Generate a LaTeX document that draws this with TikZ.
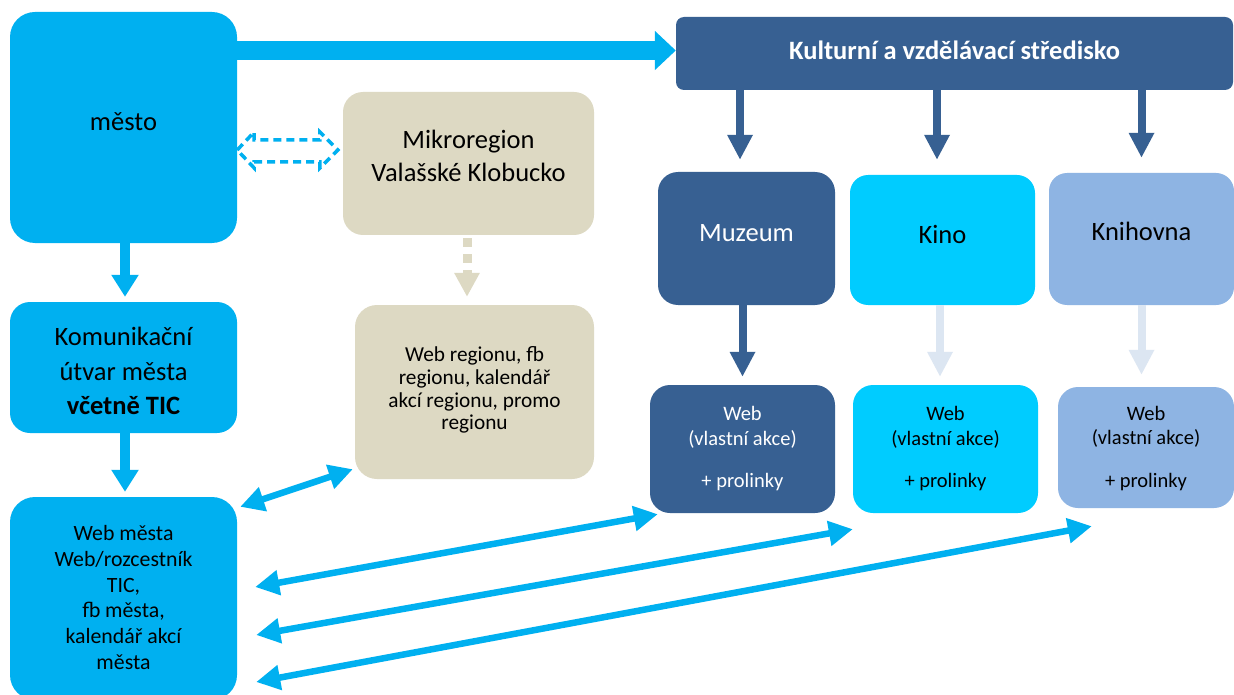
\documentclass[tikz,border=0pt]{standalone}
\usepackage{fontspec}
\setmainfont{Carlito}
\usetikzlibrary{arrows.meta,calc}
\definecolor{lb}{HTML}{00B0F0}
\definecolor{db}{HTML}{376092}
\definecolor{cy}{HTML}{00CCFF}
\definecolor{lav}{HTML}{8EB4E3}
\definecolor{beige}{HTML}{DDD9C3}
\definecolor{pale}{HTML}{DCE6F2}
\begin{document}
\begin{tikzpicture}[x=1pt,y=-1pt,
  box/.style={inner sep=0pt},
  txt/.style={inner sep=0pt, align=center},
  bigtext/.style={font=\fontsize{26.5}{33}\selectfont},
  smalltext/.style={font=\fontsize{20.5}{24.5}\selectfont},
  bigarrow/.style={line width=19pt, lb, -{Triangle[length=21pt,width=38pt]}},
  darr/.style={line width=8pt, db, -{Triangle[length=25pt,width=24pt]}},
  palearr/.style={line width=8pt, pale, -{Triangle[length=25pt,width=24pt]}},
  blarr/.style={line width=10pt, lb, -{Triangle[length=22pt,width=26pt]}},
  dotarr/.style={line width=9pt, beige, dash pattern=on 9pt off 7pt, -{Triangle[length=24pt,width=24pt]}},
  dblarr/.style={line width=6.5pt, lb, {Triangle[length=24pt,width=24pt]}-{Triangle[length=24pt,width=24pt]}},
  outlinearr/.style={line width=3.5pt, lb, dash pattern=on 8pt off 5pt, line join=miter},
]
\clip (0,0) rectangle (1234,695);
\fill[white] (0,0) rectangle (1234,695);

% boxes
\node[box, fill=lb, rounded corners=25pt, minimum width=227pt, minimum height=231pt] (mesto) at (123.5,127.5) {};
\node[box, fill=db, rounded corners=8pt, minimum width=557pt, minimum height=73pt] (kvs) at (954.5,53.5) {};
\node[box, fill=beige, rounded corners=20pt, minimum width=251pt, minimum height=143pt] (mikro) at (468.5,163.5) {};
\node[box, fill=db, rounded corners=20pt, minimum width=177pt, minimum height=133pt] (muzeum) at (746.5,238.5) {};
\node[box, fill=cy, rounded corners=18pt, minimum width=185pt, minimum height=130pt] (kino) at (942.5,240) {};
\node[box, fill=lav, rounded corners=18pt, minimum width=185pt, minimum height=132pt] (knih) at (1141.5,239) {};
\node[box, fill=lb, rounded corners=20pt, minimum width=227pt, minimum height=131pt] (kom) at (123.5,367.5) {};
\node[box, fill=beige, rounded corners=22pt, minimum width=239pt, minimum height=174pt] (webreg) at (474.5,392) {};
\node[box, fill=db, rounded corners=20pt, minimum width=185pt, minimum height=128pt] (webmuz) at (742.5,449) {};
\node[box, fill=cy, rounded corners=20pt, minimum width=185pt, minimum height=128pt] (webkino) at (945.5,449) {};
\node[box, fill=lav, rounded corners=20pt, minimum width=176pt, minimum height=121pt] (webknih) at (1146,447.5) {};
\node[box, fill=lb, rounded corners=25pt, minimum width=227pt, minimum height=203pt] (webmesta) at (123.5,598.5) {};

% texts
\node[txt, bigtext] (mesto-t) at ($(mesto)+(0,-6)$) {město};
\node[txt, font=\fontsize{26.5}{30}\selectfont\bfseries, text=white] (kvs-t) at ($(kvs)+(0,-3.5)$) {Kulturní a vzdělávací středisko};
\node[txt, bigtext] (mikro-t) at ($(mikro)+(0,-7.5)$) {Mikroregion\\Valašské Klobucko};
\node[txt, bigtext, text=white] (muzeum-t) at ($(muzeum)+(0,-5.5)$) {Muzeum};
\node[txt, bigtext] (kino-t) at ($(kino)+(0,-6)$) {Kino};
\node[txt, bigtext] (knih-t) at ($(knih)+(0,-8)$) {Knihovna};
\node[txt, font=\fontsize{26.5}{34.5}\selectfont] (kom-t) at ($(kom)+(0,3.5)$) {Komunikační\\útvar města\\\textbf{včetně TIC}};
\node[txt, font=\fontsize{21.3}{22.8}\selectfont] (webreg-t) at ($(webreg)+(0,-2)$) {Web regionu, fb\\regionu, kalendář\\akcí regionu, promo\\regionu};
\node[txt, smalltext, text=white] (webmuz-t) at (webmuz) {Web\\(vlastní akce)\\[18pt]+ prolinky};
\node[txt, smalltext] (webkino-t) at (webkino) {Web\\(vlastní akce)\\[18pt]+ prolinky};
\node[txt, smalltext] (webknih-t) at ($(webknih)+(0,1)$) {Web\\(vlastní akce)\\[18pt]+ prolinky};
\node[txt, font=\fontsize{21.8}{25.8}\selectfont] (webmesta-t) at ($(webmesta)+(0,-1)$) {Web města\\Web/rozcestník\\TIC,\\fb města,\\kalendář akcí\\města};

% helper coordinates
\coordinate (tm) at ($(muzeum.north)+(-6.5,-12)$);
\coordinate (tk) at ($(kino.north)+(-5.5,-15)$);
\coordinate (tn) at ($(knih.north)+(0,-15)$);

% top arrow
\draw[bigarrow] ([yshift=3pt]kvs.west -| mesto.east) -- ([yshift=3pt]kvs.west);
% kvs to children
\draw[darr] (kvs.south -| tm) -- (tm);
\draw[darr] (kvs.south -| tk) -- (tk);
\draw[darr] (kvs.south -| tn) -- (tn);
% children to webs
\coordinate (wm) at ($(webmuz.north)+(0,-8)$);
\coordinate (wk) at ($(webkino.north)+(-5.5,-8)$);
\coordinate (wn) at ($(webknih.north)+(-4.5,-12)$);
\draw[darr] (muzeum.south -| wm) -- (wm);
\draw[palearr] (kino.south -| wk) -- (wk);
\draw[palearr] (knih.south -| wn) -- (wn);
% left column
\coordinate (k1) at ($(kom.north)+(1.5,-5)$);
\coordinate (k2) at ($(webmesta.north)+(1.5,-5)$);
\draw[blarr] (mesto.south -| k1) -- (k1);
\draw[blarr] (kom.south -| k2) -- (k2);
% dotted
\coordinate (r1) at ($(webreg.north)+(-7.5,-8)$);
\draw[dotarr] ($(mikro.south -| r1)+(0,3)$) -- (r1);
% dashed outline double arrow
\coordinate (dl) at (mesto.east |- 0,150);
\coordinate (dr) at (mikro.west |- 0,150);
\draw[outlinearr] (dl) -- ++(17,-18) -- ++(0,8) -- ($(dr)+(-23,-10)$) -- ++(0,-8) -- ($(dr)+(-5,0)$) -- ++(-18,18) -- ++(0,-6) -- ($(dl)+(17,12)$) -- ++(0,6) -- cycle;
% double arrows
\draw[dblarr] ($(webmesta.north east)+(3,10)$) -- ($(webreg.south west)+(-2,-10)$);
\draw[dblarr] ($(webmesta.east)+(18,-11.5)$) -- ($(webmuz.south west)+(8,1)$);
\draw[dblarr] ($(webmesta.east)+(19,36.5)$) -- ($(webkino.south west)+(0,16)$);
\draw[dblarr] ($(webmesta.east)+(19,83.5)$) -- ($(webknih.south west)+(34,18)$);
\end{tikzpicture}
\end{document}
